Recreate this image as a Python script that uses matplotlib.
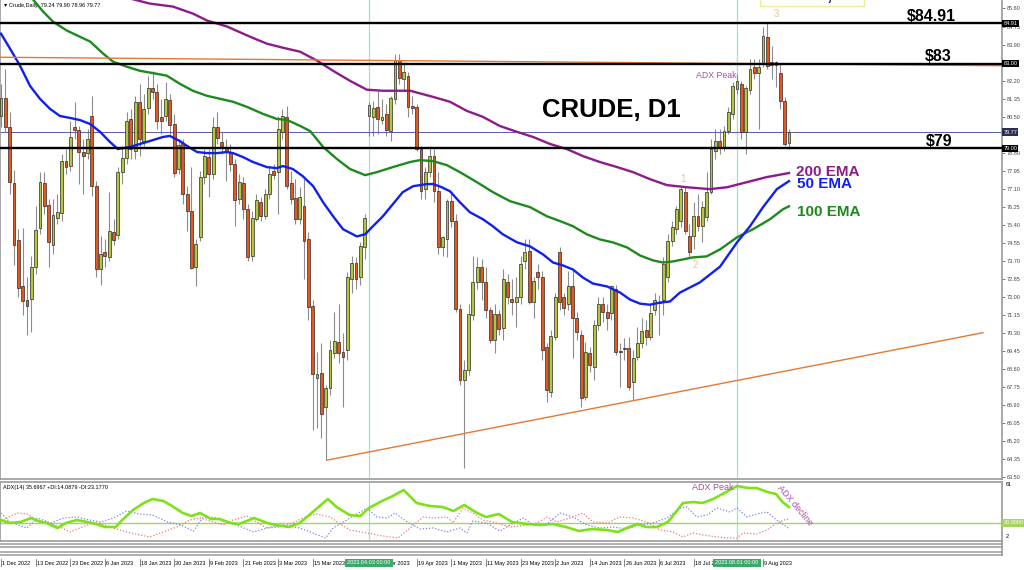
import matplotlib
matplotlib.use("Agg")
import matplotlib.pyplot as plt
import numpy as np
from matplotlib.patches import Rectangle
from matplotlib.lines import Line2D
from matplotlib.transforms import blended_transform_factory as blend

plt.rcParams['font.family'] = ['Liberation Sans', 'DejaVu Sans']

# daily candles, bar 0 = 1 Dec 2022 ... bar 182 = last bar (Aug 2023)
opens = [80.53, 81.39, 80.01, 77.36, 74.67, 72.49, 71.87, 71.92, 73.39, 75.23,
         77.36, 76.32, 74.43, 75.71, 75.94, 78.40, 78.17, 80.01, 79.87, 78.83,
         78.78, 80.53, 77.22, 73.30, 74.10, 73.86, 75.05, 74.90, 77.88, 78.55,
         80.39, 78.88, 81.20, 79.35, 80.91, 81.86, 81.67, 80.49, 80.53, 81.29,
         80.16, 78.03, 79.26, 76.84, 76.04, 73.39, 74.81, 77.65, 78.59, 77.79,
         80.01, 79.30, 79.07, 78.83, 78.26, 76.61, 77.36, 76.13, 73.91, 75.66,
         76.46, 75.80, 76.84, 77.93, 77.88, 79.78, 80.49, 77.36, 76.65, 75.66,
         76.27, 74.71, 71.59, 68.18, 68.42, 66.81, 67.71, 69.36, 69.88, 69.41,
         69.51, 72.82, 73.62, 72.92, 74.33, 80.53, 80.49, 80.96, 80.34, 80.63,
         79.82, 81.34, 83.19, 82.29, 82.43, 81.01, 80.96, 78.97, 77.08, 77.88,
         78.64, 76.99, 74.33, 74.71, 76.51, 75.57, 71.45, 68.09, 68.56, 71.16,
         72.68, 73.43, 72.72, 71.40, 69.98, 71.21, 70.55, 72.72, 71.92, 71.78,
         71.97, 73.67, 74.14, 71.78, 73.15, 72.92, 69.65, 67.52, 70.12, 74.10,
         71.97, 71.64, 72.49, 71.02, 70.22, 67.28, 69.36, 68.70, 70.69, 71.64,
         71.30, 71.26, 72.35, 69.46, 69.60, 69.60, 67.99, 69.17, 69.84, 70.46,
         70.12, 71.40, 71.78, 71.87, 72.96, 74.62, 75.19, 75.57, 76.94, 74.86,
         74.86, 75.80, 75.33, 75.75, 76.94, 78.88, 79.35, 79.07, 79.82, 80.63,
         81.81, 82.05, 79.78, 81.77, 82.85, 82.57, 83.00, 84.27, 83.09, 83.09,
         82.57, 81.25, 79.24]
highs = [82.05, 82.76, 80.73, 77.98, 75.19, 75.23, 72.96, 73.91, 76.27, 77.88,
         77.88, 76.61, 76.61, 76.84, 78.74, 78.97, 80.30, 81.20, 80.06, 79.45,
         79.92, 81.48, 77.46, 74.86, 74.71, 76.94, 75.66, 78.12, 79.11, 80.73,
         80.87, 81.48, 82.05, 81.58, 82.43, 82.67, 82.05, 81.34, 82.14, 81.58,
         80.63, 79.45, 79.45, 77.22, 78.12, 74.71, 77.93, 78.97, 78.97, 80.49,
         80.73, 79.78, 79.45, 79.21, 78.50, 77.79, 77.65, 76.37, 76.04, 76.84,
         76.70, 77.08, 78.17, 78.26, 80.53, 80.87, 81.01, 77.93, 77.55, 77.17,
         77.55, 75.05, 71.87, 69.41, 69.84, 67.85, 69.98, 71.30, 71.64, 70.31,
         73.15, 73.91, 73.86, 74.57, 75.90, 81.20, 81.25, 81.72, 81.34, 81.10,
         81.48, 83.47, 83.47, 83.09, 82.62, 81.48, 81.10, 79.11, 78.12, 79.11,
         78.97, 77.88, 74.86, 76.61, 76.84, 75.90, 71.64, 69.03, 71.64, 73.91,
         73.86, 73.77, 73.43, 71.54, 71.64, 71.40, 73.30, 73.06, 72.82, 72.92,
         73.91, 74.71, 74.71, 72.96, 73.53, 73.20, 69.84, 70.46, 72.20, 74.33,
         72.20, 73.20, 73.30, 71.30, 70.46, 69.88, 69.65, 70.92, 71.97, 72.01,
         71.64, 72.58, 72.58, 69.84, 70.07, 70.12, 69.51, 70.60, 71.02, 70.92,
         71.64, 72.20, 72.11, 73.86, 74.95, 75.57, 76.27, 77.17, 77.17, 75.42,
         76.46, 76.84, 76.51, 77.88, 79.45, 79.92, 79.92, 80.06, 80.96, 82.14,
         82.52, 82.19, 81.95, 83.23, 83.23, 83.23, 84.75, 84.91, 83.85, 83.14,
         83.00, 81.44, 79.90]
lows = [80.01, 79.78, 76.84, 73.48, 71.97, 71.16, 70.22, 70.36, 73.06, 74.95,
        75.90, 73.39, 74.00, 75.42, 75.57, 77.79, 77.93, 79.45, 77.32, 76.84,
        78.50, 76.75, 72.96, 72.58, 73.39, 73.67, 74.43, 74.71, 77.32, 78.26,
        78.50, 78.50, 78.64, 79.11, 80.63, 81.34, 79.92, 79.68, 80.30, 79.68,
        77.65, 77.79, 76.37, 75.09, 73.30, 72.49, 74.62, 77.32, 76.70, 77.55,
        79.21, 78.74, 77.46, 77.93, 75.33, 76.37, 75.66, 73.67, 73.67, 75.57,
        75.57, 75.66, 76.61, 77.55, 75.90, 79.45, 77.08, 76.37, 75.42, 75.42,
        72.82, 70.92, 65.72, 65.82, 65.34, 64.30, 67.38, 69.13, 68.89, 66.81,
        69.03, 72.20, 72.35, 72.58, 73.77, 79.59, 79.59, 79.68, 80.16, 79.59,
        79.35, 81.10, 82.05, 81.72, 80.49, 80.63, 78.88, 76.61, 76.61, 77.65,
        76.46, 74.00, 73.91, 73.86, 75.28, 71.30, 67.85, 63.92, 68.32, 70.92,
        72.35, 71.87, 71.02, 69.84, 69.36, 70.22, 69.98, 71.64, 71.16, 70.60,
        71.64, 73.30, 71.64, 71.02, 72.35, 69.03, 67.05, 67.28, 69.98, 71.40,
        71.16, 71.40, 69.13, 69.98, 66.81, 67.14, 68.46, 68.09, 70.46, 70.83,
        70.46, 70.92, 69.27, 67.75, 69.03, 67.61, 67.14, 69.03, 69.60, 69.74,
        69.98, 71.16, 70.22, 71.16, 72.68, 74.38, 74.95, 75.28, 74.95, 73.86,
        74.24, 75.09, 74.57, 75.57, 76.84, 78.50, 78.74, 78.88, 79.68, 80.39,
        81.58, 79.45, 78.74, 81.58, 82.29, 79.92, 82.85, 82.76, 82.29, 81.90,
        80.87, 79.11, 78.96]
closes = [81.39, 80.01, 77.41, 74.43, 72.44, 71.82, 71.59, 73.43, 75.14, 77.41,
          76.27, 74.57, 75.85, 75.99, 78.40, 78.12, 79.54, 79.87, 78.83, 78.64,
          79.45, 77.22, 73.30, 74.00, 73.91, 75.09, 74.67, 77.88, 78.55, 80.30,
          78.97, 81.20, 79.45, 80.87, 81.86, 81.67, 80.30, 80.30, 81.34, 80.11,
          77.84, 79.16, 76.84, 76.04, 73.34, 74.48, 77.65, 78.64, 77.79, 80.01,
          79.49, 79.11, 78.83, 78.26, 76.56, 77.41, 76.13, 73.86, 75.71, 76.56,
          75.80, 76.84, 77.79, 77.74, 79.92, 80.53, 77.22, 76.61, 75.66, 76.70,
          74.62, 71.54, 68.37, 68.37, 66.48, 67.71, 69.51, 69.93, 69.36, 69.17,
          72.92, 73.62, 72.82, 74.38, 75.71, 81.06, 80.91, 80.39, 80.49, 79.87,
          81.39, 83.19, 82.33, 82.62, 80.96, 80.91, 78.97, 76.99, 77.88, 78.64,
          76.99, 74.33, 74.81, 76.51, 75.57, 71.45, 68.09, 68.56, 71.21, 72.68,
          73.43, 72.72, 71.40, 69.98, 71.21, 70.50, 72.82, 71.97, 71.78, 72.01,
          73.53, 74.10, 71.78, 72.77, 72.92, 69.51, 67.61, 70.17, 71.97, 71.78,
          71.49, 72.49, 71.02, 70.36, 67.24, 69.41, 68.79, 70.69, 71.68, 71.30,
          71.02, 72.49, 69.41, 69.41, 69.55, 67.75, 69.13, 69.84, 70.41, 70.12,
          71.26, 71.87, 71.73, 73.53, 74.62, 75.28, 76.13, 77.08, 75.09, 74.10,
          75.80, 75.33, 76.23, 76.94, 78.97, 79.35, 79.02, 79.82, 80.73, 81.95,
          82.19, 79.78, 81.86, 82.76, 82.57, 82.85, 84.32, 82.90, 82.95, 82.95,
          81.25, 79.21, 79.77]

# moving averages (bar position, price)
ema50_x = [0, 2.1, 4.4, 6.7, 9.0, 11.3, 13.6, 15.9, 18.2, 20.6,
           22.9, 25.2, 27.0, 29.8, 32.1, 34.4, 37.4, 39.0, 41.3, 43.0,
           45.3, 47.6, 49.9, 52.2, 53.6, 55.9, 58.2, 61.4, 63.7, 65.1,
           67.4, 69.7, 72.1, 74.4, 76.7, 79.0, 82.2, 84.1, 85.9, 88.2,
           90.5, 92.8, 95.2, 98.4, 99.8, 101.8, 103.7, 106.0, 108.3, 111.3,
           113.6, 115.9, 119.2, 122.2, 125.2, 127.5, 129.8, 132.1, 134.4, 136.7,
           140.0, 143.0, 145.3, 147.6, 149.9, 152.2, 154.5, 156.8, 161.4, 166.1,
           170.0, 173.0, 176.0, 179.2, 182.0]
ema50 = [84.41, 83.70, 82.90, 81.95, 81.34, 80.87, 80.53, 80.44, 80.34, 80.15,
         79.78, 79.30, 78.97, 79.07, 79.21, 79.35, 79.54, 79.59, 79.35, 79.11,
         78.83, 78.78, 78.78, 78.83, 78.78, 78.59, 78.36, 78.12, 78.07, 78.17,
         78.03, 77.69, 77.22, 76.46, 75.80, 75.19, 74.85, 74.95, 75.33, 75.80,
         76.37, 76.94, 77.22, 77.32, 77.32, 77.17, 76.98, 76.46, 75.99, 75.66,
         75.33, 74.95, 74.57, 74.38, 74.00, 73.62, 73.48, 73.29, 72.91, 72.63,
         72.49, 72.20, 71.87, 71.68, 71.63, 71.73, 71.78, 72.20, 72.68, 73.43,
         74.57, 75.33, 76.23, 77.08, 77.46]
ema100_x = [0, 7.2, 9.7, 12.0, 15.2, 18.2, 20.6, 23.6, 25.9, 29.1,
            32.1, 36.0, 38.3, 41.3, 44.3, 47.6, 50.6, 53.6, 56.8, 60.5,
            63.7, 66.1, 69.1, 71.4, 74.4, 77.6, 80.6, 84.1, 86.8, 90.5,
            94.5, 96.8, 99.8, 103.0, 106.0, 109.9, 113.6, 117.6, 122.2, 126.1,
            129.8, 132.1, 135.3, 138.3, 141.3, 144.6, 147.6, 150.6, 152.9, 155.2,
            159.8, 163.0, 166.1, 170.0, 173.7, 177.6, 180.6, 182.0]
ema100 = [87.80, 86.07, 85.46, 84.98, 84.56, 84.27, 84.04, 83.47, 83.09, 82.85,
          82.66, 82.52, 82.43, 82.05, 81.72, 81.48, 81.34, 81.20, 80.96, 80.63,
          80.39, 80.34, 80.06, 79.82, 79.07, 78.50, 78.03, 77.74, 77.88, 78.12,
          78.36, 78.45, 78.40, 78.21, 77.88, 77.41, 76.94, 76.51, 76.23, 75.80,
          75.52, 75.33, 74.95, 74.71, 74.57, 74.33, 73.95, 73.72, 73.62, 73.67,
          73.86, 73.91, 74.24, 74.81, 75.19, 75.66, 76.13, 76.27]
ema200_x = [0, 29.8, 34.4, 39.7, 44.3, 47.6, 52.2, 57.5, 61.4, 65.1,
            69.1, 73.0, 76.7, 80.6, 84.5, 88.2, 94.5, 99.8, 103.7, 107.6,
            111.3, 115.2, 119.2, 122.9, 126.8, 130.7, 134.4, 138.3, 142.3, 146.0,
            149.9, 153.8, 158.4, 163.7, 167.7, 172.3, 176.9, 182.0]
ema200 = [87.50, 86.07, 85.83, 85.69, 85.36, 85.03, 84.75, 84.27, 83.94, 83.75,
          83.56, 83.14, 82.66, 82.19, 81.77, 81.72, 81.72, 81.43, 81.20, 80.77,
          80.49, 80.06, 79.78, 79.54, 79.21, 78.97, 78.64, 78.36, 78.12, 77.88,
          77.55, 77.27, 77.17, 77.08, 77.17, 77.41, 77.65, 77.84]

# ADX(14) panel
adx_x = [0, 2, 4.5, 7, 8.5, 10.5, 13, 15, 17.5, 20,
         22, 24, 26.5, 28, 30.5, 33, 35, 37.5, 39.5, 42,
         44, 46, 48.5, 50.5, 53, 55, 58.5, 61.5, 63.5, 66.5,
         69, 72, 75.5, 77.5, 80.5, 83, 85, 88, 90.5, 93,
         96, 99, 102, 104.5, 107, 110, 112, 115, 118, 121.5,
         124.5, 127.5, 130.5, 133.5, 136.5, 140, 142.5, 144.5, 147, 149,
         151.5, 154, 155, 157.5, 160, 162, 164.5, 167.5, 170, 172.5,
         174.5, 177, 179, 180.5, 182]
adx_v = [23, 20, 21, 25, 22, 20, 15, 20, 23, 21,
         19, 16, 16, 23, 33, 40, 44, 42, 37, 30,
         27, 30, 24, 24, 20, 19, 25, 20, 18, 16,
         20, 31, 44, 36, 28, 27, 35, 42, 47, 53,
         40, 37, 36, 32, 38, 30, 26, 29, 21, 19,
         18, 19, 16, 12, 14, 13, 11, 15, 19, 16,
         16, 21, 26, 40, 41, 40, 44, 51, 57, 55,
         55, 51, 49, 41, 36]
pdi_x = [0, 2, 6, 8.5, 11.5, 14.5, 17.5, 20.5, 23, 26,
         29, 32, 35, 38.5, 41.5, 44.5, 46.5, 49, 52, 55,
         58.3, 61.4, 65.1, 69, 72, 75, 76.7, 80.6, 84.5, 86.8,
         89.2, 91, 93.8, 96.8, 99.8, 103, 106, 107.6, 109, 112.2,
         115.2, 117.6, 120.6, 123, 126.1, 129.1, 132.1, 135.3, 138.4, 141.4,
         144.6, 147.6, 150.6, 153.8, 156.8, 158.4, 160.7, 163.1, 165.4, 168.4,
         170, 172.3, 174.6, 176.9, 179.2, 181.8]
pdi_v = [30, 21, 15, 25, 20, 25, 26, 23, 21, 25,
         32, 29, 28, 21, 18, 12, 25, 26, 21, 17,
         11, 15, 18, 15, 10, 5, 15, 25, 35, 26,
         25, 30, 21, 14, 15, 11, 15, 10, 22, 20,
         12, 18, 25, 18, 19, 30, 26, 18, 15, 16,
         14, 18, 20, 25, 35, 36, 26, 28, 35, 31,
         35, 26, 29, 31, 23, 15]
mdi_x = [0, 1.4, 3.7, 6, 8.3, 10.6, 13.6, 16, 18.2, 20.5,
         22.9, 25.9, 29, 32.1, 34.4, 37.4, 40.6, 43.6, 46, 49,
         51.3, 53.6, 56.8, 59.1, 61.4, 64.4, 67.4, 69.7, 73, 76,
         78, 80.6, 84.5, 88.2, 91.7, 94.5, 97.5, 99.8, 103, 104.4,
         106.7, 109, 111.3, 114.5, 117.6, 121.5, 123.8, 126.1, 128.4, 131.4,
         134.4, 136.7, 140, 142.9, 146, 149.2, 152.2, 155.2, 157.5, 159.8,
         162.1, 165.4, 168.4, 170, 171.4, 174.6, 176.9, 179.2, 181.5, 182.2]
mdi_v = [21, 25, 30, 29, 23, 21, 16, 11, 15, 19,
         20, 15, 11, 8, 6, 11, 16, 23, 25, 21,
         18, 23, 27, 21, 15, 16, 20, 25, 29, 26,
         20, 13, 10, 7, 5, 15, 26, 25, 26, 20,
         35, 30, 23, 20, 16, 18, 20, 26, 21, 25,
         30, 21, 20, 26, 25, 21, 13, 11, 6, 10,
         8, 6, 5, 5, 10, 9, 13, 20, 24, 23]

# levels and trendlines
levels = [84.91, 83.00, 79.00]
level_labels = ['$84.91', '$83', '$79']
last_price = 79.77
upper_tl_x, upper_tl_y = [-0.3, 231.3], [83.30, 82.90]
lower_tl_x, lower_tl_y = [75.3, 226.8], [64.30, 70.31]
crosshair_bars = [85, 170]
crosshair_text = ['2023.04.03 00:00', '2023.08.01 00:00']

# visible date labels (the ones under the crosshair boxes are not shown)
date_bars = [0, 8, 16, 24, 32, 40, 48, 56, 64, 72, 88, 96, 104, 112,
             120, 128, 136, 144, 152, 160, 176]
date_labels = ['1 Dec 2022', '13 Dec 2022', '23 Dec 2022', '6 Jan 2023', '18 Jan 2023',
               '30 Jan 2023', '9 Feb 2023', '21 Feb 2023', '3 Mar 2023', '15 Mar 2023',
               '6 Apr 2023', '19 Apr 2023', '1 May 2023', '11 May 2023',
               '23 May 2023', '2 Jun 2023', '14 Jun 2023', '26 Jun 2023', '6 Jul 2023',
               '18 Jul 2023', '9 Aug 2023']
price_ticks = [85.60, 84.75, 83.90, 82.20, 81.35, 80.50, 78.80, 77.95, 77.10,
               76.25, 75.40, 74.55, 73.70, 72.85, 72.00, 71.15, 70.30, 69.45,
               68.60, 67.75, 66.90, 66.05, 65.20, 64.35, 63.50]

# colours
BULL = '#b6c63a'
BEAR = '#e8561e'
PURPLE = '#8b1c8b'
BLUE = '#1020f0'
GREEN = '#1e8a1e'
ORANGE = '#e67834'
GRID = '#9a9a9a'
MINT = '#a6e3c2'
NOTE = '#a64ca6'

W, H = 1024, 570
fig = plt.figure(figsize=(W / 100, H / 100), dpi=100)
fig.patch.set_facecolor('white')


def fy(px):
    return 1 - px / H


RIGHT = 1002 / W
ax = fig.add_axes([0, fy(479), RIGHT, 479 / H])
adx = fig.add_axes([0, fy(541), RIGHT, (541 - 482) / H], sharex=ax)
ax.set_xlim(-0.23, 231.2)
ax.set_ylim(63.41, 86.00)
adx.set_ylim(2, 61)

for a in (ax, adx):
    for s in a.spines.values():
        s.set_color(GRID)
        s.set_linewidth(1.2)
ax.spines['top'].set_visible(False)

# candles
x = np.arange(len(closes))
o, h, l, c = (np.array(v) for v in (opens, highs, lows, closes))
up = c >= o
ax.vlines(x, l, h, color='#8c8c8c', lw=0.8, zorder=2)
lo = np.minimum(o, c)
size = np.maximum(np.abs(c - o), 0.05)
ax.bar(x[up], size[up], bottom=lo[up], width=0.66, color=BULL,
       edgecolor='#2b2b2b', linewidth=0.5, zorder=3)
ax.bar(x[~up], size[~up], bottom=lo[~up], width=0.66, color=BEAR,
       edgecolor='#2b2b2b', linewidth=0.5, zorder=3)

# moving averages
ax.plot(ema200_x, ema200, color=PURPLE, lw=1.7, zorder=4)
ax.plot(ema100_x, ema100, color=GREEN, lw=1.7, zorder=4)
ax.plot(ema50_x, ema50, color=BLUE, lw=1.7, zorder=4)

# lines
ax.plot(upper_tl_x, upper_tl_y, color=ORANGE, lw=1.0, zorder=4)
ax.plot(lower_tl_x, lower_tl_y, color=ORANGE, lw=1.0, zorder=4)
ax.axhline(last_price, color='#5a5aa8', lw=0.7, zorder=2)
for lvl in levels:
    ax.axhline(lvl, color='black', lw=1.7, zorder=5)
for b in crosshair_bars:
    ax.axvline(b, color=MINT, lw=0.9, zorder=1)
    adx.axvline(b, color=MINT, lw=0.9, zorder=1)

# big labels
for lvl, txt, bx in zip(levels, level_labels, [215.0, 216.5, 216.8]):
    ax.text(bx, lvl + 0.33, txt, fontsize=11.5, fontweight='bold', ha='center',
            va='center', zorder=6)
ax.text(141, 80.81, 'CRUDE, D1', fontsize=18.5, fontweight='bold', ha='center',
        va='center', zorder=6)
ax.text(183.6, 77.9, '200 EMA', color=PURPLE, fontsize=11, fontweight='bold',
        va='center', zorder=6)
ax.text(183.8, 77.3, '50 EMA', color=BLUE, fontsize=11, fontweight='bold',
        va='center', zorder=6)
ax.text(183.8, 76.0, '100 EMA', color=GREEN, fontsize=11, fontweight='bold',
        va='center', zorder=6)
ax.text(160.6, 82.42, 'ADX Peak', color=NOTE, fontsize=6.3, va='center', zorder=6)
for txt, bx, py in [('1', 157.5, 77.55), ('2', 160.3, 73.5), ('3', 179.2, 85.35)]:
    ax.text(bx, py, txt, color='#f6c08c', fontsize=7, ha='center', va='center', zorder=6)

# note box cut off by the top edge
ax.add_patch(Rectangle((175.3, 85.72), 24.0, 1.5, facecolor='white',
                       edgecolor='#eeee95', lw=1.0, zorder=6, clip_on=True))
ax.text(187.3, 86.19, 'CRUDE, D1', color='#1c2a6e', fontsize=13, fontweight='bold',
        ha='center', va='center', zorder=7, clip_on=True)

# header
ax.text(4 / 1002, 1 - 5 / 479, '\u25be', transform=ax.transAxes, fontsize=4.5,
        va='center', ha='left', family=['DejaVu Sans'])
ax.text(9 / 1002, 1 - 5 / 479, 'Crude,Daily  79.24 79.90 78.96 79.77',
        transform=ax.transAxes, fontsize=4, va='center', ha='left')

# price scale
ax.yaxis.tick_right()
ax.set_yticks(price_ticks)
ax.set_yticklabels([f'{t:.2f}' for t in price_ticks], fontsize=4, color='#222222')
ax.tick_params(axis='y', length=2, width=0.5, pad=1.5, colors='#444444')
ax.tick_params(axis='x', bottom=False, labelbottom=False)
tr = blend(ax.transAxes, ax.transData)
for val, fc in [(84.91, 'black'), (83.00, 'black'), (last_price, '#2e2e50'), (79.00, 'black')]:
    ax.text(1.0015, val, f'{val:.2f}', transform=tr, fontsize=4, color='white',
            va='center', ha='left', zorder=8, clip_on=False,
            bbox=dict(boxstyle='square,pad=0.2', fc=fc, ec='none'))

# ADX panel
adx.axhline(20, color='#a4d65e', lw=1.0, zorder=1)
adx.plot(pdi_x, pdi_v, color='#8080f0', lw=0.9, ls=(0, (1, 1.5)), zorder=2)
adx.plot(mdi_x, mdi_v, color='#f07878', lw=0.9, ls=(0, (1, 1.5)), zorder=2)
adx.plot(adx_x, adx_v, color='#7ee21a', lw=1.9, zorder=3)
adx.set_yticks([])
adx.tick_params(axis='x', bottom=False, labelbottom=False)
adx.text(3 / 1002, 0.9, 'ADX(14) 35.6967 +DI:14.0879 -DI:23.1770',
         transform=adx.transAxes, fontsize=4, va='center', ha='left')
adx.text(159.6, 55, 'ADX Peak', color=NOTE, fontsize=6.5, va='center', zorder=5)
adx.text(183.4, 38, 'ADX decline', color=NOTE, fontsize=6.5, ha='center', va='center',
         rotation=-50, rotation_mode='anchor', zorder=5)
atr = blend(adx.transAxes, adx.transData)
adx.text(1.004, 58.5, '61', transform=atr, fontsize=4, va='center', clip_on=False)
adx.text(1.004, 6.5, '2', transform=atr, fontsize=4, va='center', clip_on=False)
adx.text(1.0015, 20, '20.0000', transform=atr, fontsize=4, color='white', va='center',
         clip_on=False, zorder=8,
         bbox=dict(boxstyle='square,pad=0.2', fc='#a4d65e', ec='none'))

# collapsed sub-windows below ADX
for py in (544, 547, 551.5, 554.5):
    fig.add_artist(Line2D([0, RIGHT], [fy(py), fy(py)], color=GRID, lw=1.1))
fig.add_artist(Line2D([RIGHT, RIGHT], [fy(541), fy(555)], color=GRID, lw=1.2))

# date axis
dtr = blend(adx.transData, fig.transFigure)
for b, lab in zip(date_bars, date_labels):
    adx.text(b + 0.3, fy(563.5), lab, transform=dtr, fontsize=4, ha='left',
             va='center', clip_on=False, zorder=5)
    adx.plot([b, b], [fy(559), fy(566)], transform=dtr, color='#555555', lw=0.5,
             clip_on=False)
for b, lab in zip(crosshair_bars, crosshair_text):
    adx.text(b, fy(563), lab, transform=dtr, fontsize=4, ha='center', va='center',
             color='white', clip_on=False, zorder=9,
             bbox=dict(boxstyle='square,pad=0.35', fc='#3aaa6a', ec='none'))

fig.savefig('out.png', dpi=100)
